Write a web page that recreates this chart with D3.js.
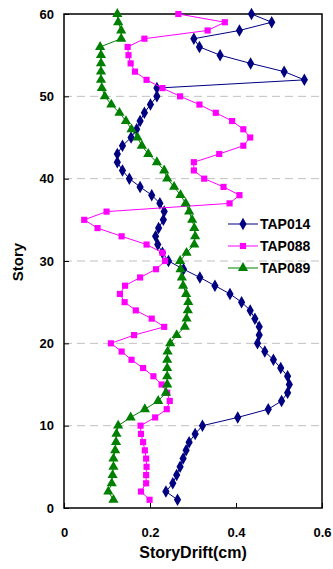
<!DOCTYPE html>
<html><head><meta charset="utf-8">
<script src="https://cdn.jsdelivr.net/npm/d3@7"></script>
<style>body{margin:0;background:#fff}svg{display:block}text{font-family:Arial,"Liberation Sans",sans-serif;font-weight:bold}</style>
</head><body>
<script>
const stories = d3.range(1, 61);
const tap014 = [0.264,0.237,0.253,0.262,0.270,0.277,0.284,0.291,0.305,0.322,
0.404,0.475,0.506,0.520,0.524,0.520,0.504,0.487,0.467,0.450,
0.454,0.454,0.444,0.433,0.413,0.386,0.351,0.316,0.278,0.243,
0.229,0.218,0.213,0.220,0.231,0.233,0.223,0.204,0.177,0.152,
0.136,0.124,0.124,0.136,0.156,0.169,0.177,0.187,0.201,0.216,
0.216,0.559,0.512,0.434,0.363,0.315,0.302,0.408,0.483,0.436];
const tap088 = [0.199,0.179,0.191,0.191,0.192,0.191,0.188,0.184,0.179,0.178,
0.212,0.239,0.246,0.240,0.227,0.208,0.184,0.157,0.134,0.109,
0.163,0.233,0.204,0.167,0.141,0.130,0.142,0.177,0.214,0.235,
0.229,0.192,0.134,0.078,0.047,0.099,0.385,0.408,0.371,0.326,
0.302,0.302,0.361,0.417,0.433,0.417,0.391,0.353,0.315,0.270,
0.229,0.192,0.165,0.155,0.150,0.148,0.187,0.334,0.374,0.266];
const tap089 = [0.115,0.103,0.111,0.113,0.115,0.115,0.119,0.121,0.122,0.126,
0.155,0.188,0.219,0.237,0.240,0.240,0.240,0.240,0.241,0.247,
0.262,0.281,0.285,0.288,0.289,0.284,0.277,0.274,0.271,0.270,
0.285,0.303,0.305,0.303,0.298,0.291,0.283,0.271,0.256,0.240,
0.233,0.216,0.196,0.181,0.171,0.157,0.144,0.129,0.110,0.095,
0.088,0.086,0.086,0.086,0.086,0.084,0.133,0.133,0.126,0.124];
const seriesNames = ["TAP014","TAP088","TAP089"];
const seriesColors = ["#000080","#FF00FF","#008000"];
const seriesSymbols = [d3.symbolDiamond, d3.symbolSquare, d3.symbolTriangle];
const xTicks = [0, 0.2, 0.4, 0.6];
const yTicks = [0, 10, 20, 30, 40, 50, 60];

const W = 333, H = 569;
const m = {l:64, r:11, t:14, b:61};
const svg = d3.select("body").append("svg").attr("width", W).attr("height", H);
const x = d3.scaleLinear().domain([0, 0.6]).range([m.l, W - m.r]);
const y = d3.scaleLinear().domain([0, 60]).range([H - m.b, m.t]);

// gridlines
svg.append("g").selectAll("line").data(yTicks.filter(v => v > 0 && v < 60)).join("line")
  .attr("x1", x(0)).attr("x2", x(0.6)).attr("y1", d => y(d)).attr("y2", d => y(d))
  .attr("stroke", "#c0c0c0").attr("stroke-width", 1).attr("stroke-dasharray", "8,5");

// axes
const xAxis = d3.axisBottom(x).tickValues(xTicks).tickFormat(d => d === 0 ? "0" : d3.format(".1f")(d)).tickSizeInner(-5).tickSizeOuter(0).tickPadding(20);
const gx = svg.append("g").attr("transform", `translate(0,${y(0)})`).call(xAxis);
const yAxis = d3.axisLeft(y).tickValues(yTicks).tickSizeInner(-5).tickSizeOuter(0).tickPadding(10);
const gy = svg.append("g").attr("transform", `translate(${x(0)},0)`).call(yAxis);
[gx, gy].forEach(g => {
  g.select(".domain").remove();
  g.selectAll("line").attr("stroke", "#000").attr("stroke-width", 1);
  g.selectAll("text").attr("font-size", 13).attr("font-weight", "bold").attr("font-family", "Arial, 'Liberation Sans', sans-serif").attr("fill", "#000");
});
gx.selectAll(".tick text").attr("dy", "0.71em");

// frame
svg.append("rect").attr("x", x(0)).attr("y", y(60)).attr("width", x(0.6) - x(0)).attr("height", y(0) - y(60))
  .attr("fill", "none").attr("stroke", "#000").attr("stroke-width", 1.5);

// series
const all = [tap014, tap088, tap089];
const line = d3.line().x(d => x(d[0])).y(d => y(d[1]));
all.forEach((vals, i) => {
  const pts = vals.map((v, j) => [v, stories[j]]);
  const g = svg.append("g");
  g.append("path").attr("d", line(pts)).attr("fill", "none").attr("stroke", seriesColors[i]).attr("stroke-width", 1);
  const size = i === 1 ? 38 : 45;
  g.selectAll("path.m").data(pts).join("path").attr("class", "m")
    .attr("transform", d => `translate(${x(d[0])},${y(d[1])})`)
    .attr("d", d3.symbol().type(seriesSymbols[i]).size(size))
    .attr("fill", seriesColors[i]);
});

// legend
const lg = svg.append("g");
seriesNames.forEach((n, i) => {
  const ly = 224 + i * 22;
  lg.append("line").attr("x1", 228).attr("x2", 258).attr("y1", ly).attr("y2", ly)
    .attr("stroke", seriesColors[i]).attr("stroke-width", 1);
  lg.append("path").attr("transform", `translate(243,${ly})`)
    .attr("d", d3.symbol().type(seriesSymbols[i]).size(i === 1 ? 38 : 45)).attr("fill", seriesColors[i]);
  lg.append("text").attr("x", 260).attr("y", ly).attr("dy", "0.35em").attr("font-size", 14).text(n);
});

// axis titles
svg.append("text").attr("x", 193).attr("y", 558).attr("text-anchor", "middle").attr("font-size", 16).text("StoryDrift(cm)");
svg.append("text").attr("transform", `translate(23,262) rotate(-90)`).attr("text-anchor", "middle").attr("font-size", 15).text("Story");
</script>
</body></html>
